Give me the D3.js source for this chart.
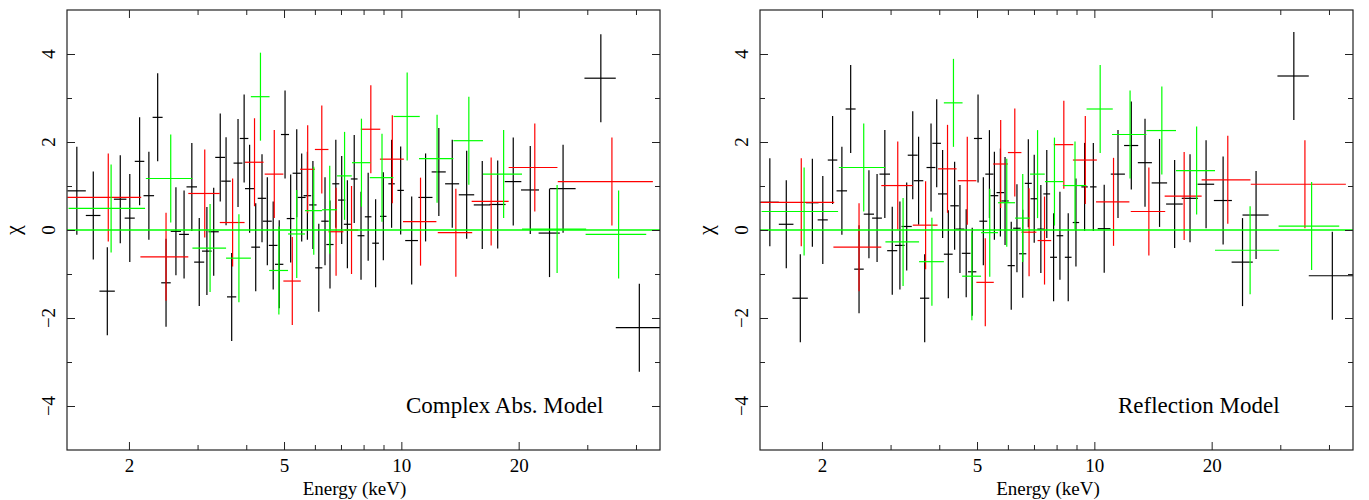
<!DOCTYPE html>
<html>
<head>
<meta charset="utf-8">
<script src="https://cdn.jsdelivr.net/npm/d3@7"></script>
<style>
  body { margin: 0; background: #fff; }
  svg text { font-family: "Liberation Serif", "Times New Roman", serif; fill: #000; }
</style>
</head>
<body>
<div class="vis"></div>
<script>
//Width and height
var w = 1369;
var h = 500;

// tick values (keV and chi)
var majorE = [2, 5, 10, 20];
var minorE = [3, 4, 6, 7, 8, 9, 30, 40];
var majorChi = [-4, -2, 0, 2, 4];
var minorChi = [-3, -1, 1, 3];
var chiErr = 1; // residuals are in units of sigma

// [energy keV, half bin width keV, chi] - Complex Abs. Model
var absBlack = [
  [1.47,0.08,0.89],[1.62,0.07,0.33],[1.76,0.08,-1.39],[1.90,0.07,0.70],[2.01,0.06,0.27],
  [2.13,0.06,1.56],[2.25,0.07,0.78],[2.37,0.07,2.56],[2.49,0.07,-1.20],[2.64,0.08,-0.03],
  [2.77,0.08,-0.10],[2.90,0.09,0.98],[3.03,0.09,-0.73],[3.17,0.09,-0.48],[3.30,0.10,-0.04],
  [3.43,0.10,1.65],[3.55,0.10,1.11],[3.67,0.10,-1.52],[3.81,0.10,1.52],[3.95,0.10,2.08],
  [4.08,0.11,0.94],[4.23,0.11,-0.39],[4.39,0.11,0.72],[4.53,0.12,0.20],[4.69,0.12,-0.35],
  [4.86,0.12,-0.78],[5.03,0.12,2.17],[5.20,0.12,0.26],[5.39,0.13,1.29],[5.55,0.13,0.74],
  [5.74,0.13,0.78],[5.93,0.13,0.57],[6.14,0.13,-0.86],[6.37,0.14,0.20],[6.56,0.14,-0.33],
  [6.79,0.14,1.05],[7.03,0.15,0.68],[7.27,0.15,0.13],[7.57,0.15,1.16],[7.88,0.16,-0.13],
  [8.22,0.16,0.30],[8.59,0.17,-0.30],[8.99,0.17,0.31],[9.44,0.18,1.05],[9.96,0.19,0.90],
  [10.63,0.40,-0.24],[11.54,0.48,0.74],[12.48,0.52,1.32],[13.51,0.56,1.05],[14.71,0.67,0.80],
  [16.13,0.79,0.57],[17.67,0.84,0.58],[19.37,0.95,1.10],[21.42,1.14,0.91],[24.0,1.5,-0.07],
  [26.0,2.0,0.94],[32.5,3.0,3.45],[40.8,5.3,-2.22]
];
var absRed = [
  [1.77,0.38,0.74],[2.49,0.35,-0.61],[3.13,0.29,0.83],[3.69,0.27,0.17],[4.20,0.23,1.54],
  [4.72,0.26,1.27],[5.25,0.27,-1.16],[5.75,0.25,1.38],[6.25,0.25,1.83],[6.80,0.30,-0.04],
  [7.45,0.30,0.00],[8.35,0.48,2.29],[9.48,0.67,1.61],[11.2,1.1,0.19],[13.8,1.4,-0.06],
  [17.0,1.85,0.65],[22.0,3.15,1.42],[34.7,9.5,1.10]
];
var absGreen = [
  [1.80,0.40,0.49],[2.56,0.35,1.17],[3.23,0.32,-0.41],[3.83,0.28,-0.64],[4.35,0.24,3.03],
  [4.85,0.27,-0.92],[5.39,0.27,-0.09],[5.96,0.30,0.44],[6.55,0.29,0.46],[7.15,0.31,1.23],
  [7.90,0.43,1.53],[8.92,0.62,1.19],[10.35,0.8,2.58],[12.35,1.25,1.62],[14.9,1.3,2.03],
  [18.3,2.1,1.27],[25.1,4.7,0.02],[36.1,6.4,-0.10]
];

// Reflection Model
var reflBlack = [
  [1.47,0.08,0.63],[1.62,0.07,0.13],[1.76,0.08,-1.55],[1.89,0.07,0.62],[2.01,0.06,0.23],
  [2.13,0.06,1.59],[2.25,0.07,0.89],[2.37,0.07,2.75],[2.49,0.07,-0.89],[2.64,0.08,0.36],
  [2.77,0.08,0.27],[2.90,0.09,1.27],[3.03,0.09,-0.47],[3.17,0.09,-0.35],[3.30,0.10,0.08],
  [3.42,0.10,1.70],[3.54,0.10,1.12],[3.67,0.10,-1.55],[3.81,0.10,1.42],[3.94,0.10,1.97],
  [4.08,0.11,0.82],[4.22,0.11,-0.55],[4.38,0.11,0.55],[4.52,0.12,0.02],[4.69,0.12,-0.53],
  [4.86,0.12,-0.95],[5.03,0.12,2.08],[5.19,0.12,0.20],[5.38,0.13,1.27],[5.54,0.13,0.78],
  [5.74,0.13,0.85],[5.90,0.13,0.66],[6.12,0.13,-0.81],[6.33,0.14,0.04],[6.55,0.14,-0.54],
  [6.77,0.14,1.06],[7.01,0.15,0.71],[7.29,0.15,0.02],[7.55,0.15,0.82],[7.86,0.16,-0.62],
  [8.16,0.16,-0.13],[8.57,0.17,-0.62],[8.97,0.17,0.17],[9.44,0.18,0.98],[9.94,0.19,0.98],
  [10.6,0.40,0.03],[11.5,0.48,1.27],[12.44,0.52,1.92],[13.49,0.56,1.53],[14.7,0.67,1.07],
  [16.07,0.79,0.59],[17.6,0.84,0.72],[19.35,0.95,1.04],[21.4,1.14,0.67],[24.0,1.5,-0.73],
  [26.0,2.0,0.34],[32.5,3.0,3.50],[40.8,5.3,-1.04]
];
var reflRed = [
  [1.77,0.38,0.63],[2.49,0.35,-0.39],[3.13,0.29,1.01],[3.69,0.27,0.11],[4.20,0.23,1.39],
  [4.72,0.26,1.12],[5.25,0.27,-1.19],[5.75,0.25,1.50],[6.25,0.25,1.76],[6.80,0.30,-0.05],
  [7.45,0.30,-0.24],[8.35,0.48,1.94],[9.48,0.67,1.59],[11.2,1.1,0.64],[13.8,1.4,0.42],
  [17.0,1.85,0.77],[22.0,3.15,1.14],[34.7,9.5,1.04]
];
var reflGreen = [
  [1.80,0.40,0.42],[2.56,0.35,1.42],[3.23,0.32,-0.27],[3.83,0.28,-0.72],[4.35,0.24,2.89],
  [4.85,0.27,-1.05],[5.39,0.27,-0.06],[5.96,0.30,0.62],[6.55,0.29,0.27],[7.15,0.31,1.27],
  [7.90,0.43,1.10],[8.92,0.62,1.01],[10.35,0.8,2.75],[12.35,1.25,2.17],[14.9,1.3,2.26],
  [18.3,2.1,1.35],[25.1,4.7,-0.46],[36.1,6.4,0.09]
];

var panels = [
  {left: 67, right: 660, title: "Complex Abs. Model", titleX: 406, labelX: 354.5,
   series: [absBlack, absRed, absGreen]},
  {left: 760, right: 1353, title: "Reflection Model", titleX: 1118, labelX: 1048,
   series: [reflBlack, reflRed, reflGreen]}
];
var colours = ["#000000", "#ff0000", "#00ff00"];
var plotTop = 10, plotBottom = 450;

var svg = d3.select(".vis").append("svg")
    .attr("width", w)
    .attr("height", h);

panels.forEach(function(p, pi) {
    var xScale = d3.scaleLog().domain([1.387, 46.1]).range([p.left, p.right]);
    var yScale = d3.scaleLinear().domain([-5, 5]).range([plotBottom, plotTop]);

    var g = svg.append("g");

    // clip to plot box
    g.append("clipPath").attr("id", "clip" + pi)
        .append("rect")
        .attr("x", p.left).attr("y", plotTop)
        .attr("width", p.right - p.left).attr("height", plotBottom - plotTop);

    var plot = g.append("g").attr("clip-path", "url(#clip" + pi + ")");

    p.series.forEach(function(data, si) {
        var grp = plot.append("g")
            .attr("stroke", colours[si])
            .attr("stroke-width", 1.2);
        // horizontal bar = energy bin
        grp.selectAll("line.xb").data(data).enter().append("line")
            .attr("class", "xb")
            .attr("x1", function(d) { return xScale(d[0] - d[1]); })
            .attr("x2", function(d) { return xScale(d[0] + d[1]); })
            .attr("y1", function(d) { return yScale(d[2]); })
            .attr("y2", function(d) { return yScale(d[2]); });
        // vertical bar = 1 sigma
        grp.selectAll("line.yb").data(data).enter().append("line")
            .attr("class", "yb")
            .attr("x1", function(d) { return xScale(d[0]); })
            .attr("x2", function(d) { return xScale(d[0]); })
            .attr("y1", function(d) { return yScale(d[2] - chiErr); })
            .attr("y2", function(d) { return yScale(d[2] + chiErr); });
    });

    // model line at chi = 0
    plot.append("line")
        .attr("x1", p.left).attr("x2", p.right)
        .attr("y1", yScale(0)).attr("y2", yScale(0))
        .attr("stroke", "#00ff00").attr("stroke-width", 1.5);

    // axes, ticks pointing into the box
    function drawAxis(axis, transform, cls) {
        var a = g.append("g").attr("class", cls).attr("transform", transform).call(axis);
        a.select(".domain").remove();
        a.selectAll("line").attr("stroke", "#222").attr("stroke-width", 1);
        return a;
    }
    var bx = "translate(0," + plotBottom + ")";
    var tx = "translate(0," + plotTop + ")";
    var lx = "translate(" + p.left + ",0)";
    var rx = "translate(" + p.right + ",0)";

    var xMajor = drawAxis(d3.axisBottom(xScale).tickValues(majorE).tickSizeInner(-8).tickSizeOuter(0)
        .tickPadding(9).tickFormat(d3.format("d")), bx, "x-major");
    xMajor.selectAll("text").style("font-size", "19px").attr("fill", "#000");
    drawAxis(d3.axisBottom(xScale).tickValues(minorE).tickSizeInner(-5).tickSizeOuter(0).tickFormat(""), bx, "x-minor");
    drawAxis(d3.axisTop(xScale).tickValues(majorE).tickSizeInner(-8).tickSizeOuter(0).tickFormat(""), tx, "xt-major");
    drawAxis(d3.axisTop(xScale).tickValues(minorE).tickSizeInner(-5).tickSizeOuter(0).tickFormat(""), tx, "xt-minor");

    drawAxis(d3.axisLeft(yScale).tickValues(majorChi).tickSizeInner(-8).tickSizeOuter(0).tickFormat(""), lx, "y-major");
    drawAxis(d3.axisLeft(yScale).tickValues(minorChi).tickSizeInner(-5).tickSizeOuter(0).tickFormat(""), lx, "y-minor");
    drawAxis(d3.axisRight(yScale).tickValues(majorChi).tickSizeInner(-8).tickSizeOuter(0).tickFormat(""), rx, "yr-major");
    drawAxis(d3.axisRight(yScale).tickValues(minorChi).tickSizeInner(-5).tickSizeOuter(0).tickFormat(""), rx, "yr-minor");

    // rotated y tick labels
    g.selectAll("text.ylab").data(majorChi).enter().append("text")
        .attr("class", "ylab")
        .attr("transform", function(d) { return "translate(" + (p.left - 12) + "," + yScale(d) + ") rotate(-90)"; })
        .attr("text-anchor", "middle")
        .style("font-size", "19px")
        .text(function(d) { return d < 0 ? "\u2212" + Math.abs(d) : d; });

    // frame
    g.append("rect")
        .attr("x", p.left).attr("y", plotTop)
        .attr("width", p.right - p.left).attr("height", plotBottom - plotTop)
        .attr("fill", "none").attr("stroke", "#222").attr("stroke-width", 1.2);

    // labels
    g.append("text")
        .attr("transform", "translate(" + (p.left - 47) + "," + yScale(0) + ") rotate(-90)")
        .attr("text-anchor", "middle")
        .style("font-size", "22px")
        .text("\u03c7");

    g.append("text")
        .attr("x", p.labelX).attr("y", 495)
        .attr("text-anchor", "middle")
        .style("font-size", "19px")
        .text("Energy (keV)");

    g.append("text")
        .attr("x", p.titleX).attr("y", 413)
        .style("font-size", "23px")
        .text(p.title);
});
</script>
</body>
</html>
